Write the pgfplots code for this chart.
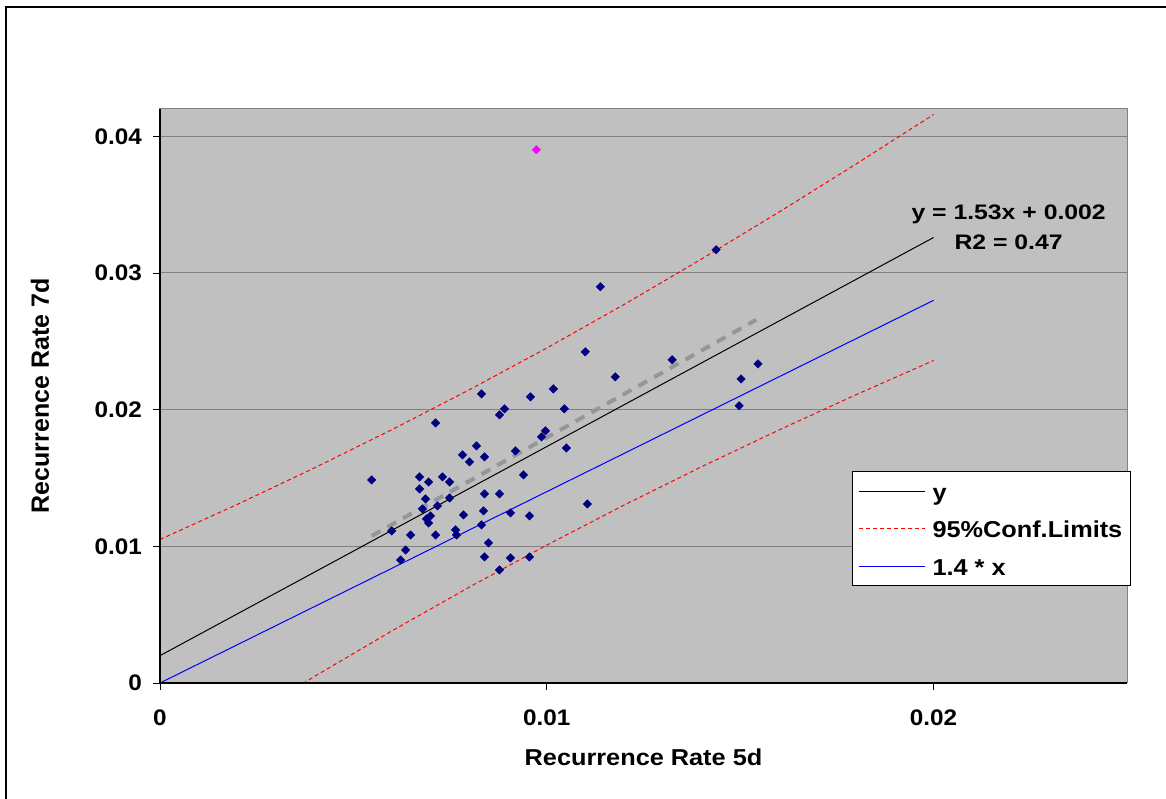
\documentclass[border=0pt]{standalone}
\usepackage{fontspec}
\setmainfont{Liberation Sans}
\newfontfamily\tickfont{Liberation Sans}[FakeStretch=1.08]
\newfontfamily\legfont{Liberation Sans}[FakeStretch=1.1]
\newfontfamily\eqfont{Liberation Sans}[FakeStretch=1.18]
\usepackage{pgfplots}
\pgfplotsset{compat=1.18}
\definecolor{plotbg}{RGB}{192,192,192}
\definecolor{gridc}{RGB}{128,128,128}
\definecolor{navy}{RGB}{0,0,128}
\definecolor{trend}{RGB}{150,150,150}
\definecolor{pinkpt}{RGB}{255,0,255}
\definecolor{redline}{RGB}{255,0,0}
\definecolor{blueline}{RGB}{0,0,255}
\newcommand\tlbl{\tickfont\fontsize{22.5}{27}\selectfont\bfseries}
\newcommand\lbl{\legfont\fontsize{23}{27}\selectfont\bfseries}
\newcommand\eqf{\eqfont\fontsize{21}{30}\selectfont\bfseries}
\newcommand\ylbl{\fontsize{25}{29}\selectfont\bfseries}
\begin{document}
\begin{tikzpicture}
\useasboundingbox (-160pt,-116pt) rectangle (1006pt,683pt);
\draw[black,line width=1.3pt] (-154pt,-130pt) -- (-154pt,676pt) -- (1020pt,676pt);
\begin{axis}[
  at={(0pt,0pt)}, anchor=south west, scale only axis,
  width=967pt, height=574pt,
  xmin=0, xmax=0.025, ymin=0, ymax=0.042,
  xtick={0,0.01,0.02}, xticklabels={0,0.01,0.02},
  ytick={0,0.01,0.02,0.03,0.04}, yticklabels={0,0.01,0.02,0.03,0.04},
  scaled ticks=false,
  tick align=outside, major tick length=7pt, tick pos=left,
  tick style={black, line width=0.8pt},
  ymajorgrids, grid style={gridc, line width=1pt},
  axis background/.style={fill=plotbg},
  axis line style={gridc, line width=1pt},
  ticklabel style={font=\tlbl, inner sep=0pt},
  xticklabel style={anchor=north}, yticklabel style={anchor=east},
  xticklabel shift=20pt, yticklabel shift=11pt,
  xlabel={Recurrence Rate 5d}, ylabel={Recurrence Rate 7d},
  xlabel style={font=\lbl, at={([yshift=-74pt]axis description cs:0.5,0)}, anchor=center},
  ylabel style={font=\ylbl, at={([xshift=-120pt]axis description cs:0,0.5)}, anchor=center},
  legend cell align=left,
  legend image code/.code={\draw[#1] (0pt,0pt) -- (66pt,0pt);},
  legend style={at={(axis description cs:0.7156,0.3693)}, anchor=north west,
    draw=black, line width=1pt, fill=white, font=\lbl,
    inner xsep=6pt, inner ysep=5.5pt, row sep=9.5pt,
    nodes={inner xsep=2pt, inner ysep=0pt, text height=23pt, text depth=5pt},
    /tikz/every odd column/.style={column sep=5pt}},
]
% fitted line
\addplot[draw=black, line width=1pt] coordinates {(0,0.002) (0.02,0.0326)};
\addlegendentry{y}
% 95% confidence limits (upper)
\addplot[draw=redline, line width=1pt, dash pattern=on 4pt off 3pt] coordinates {
 (0,0.01050) (0.002,0.01307) (0.004,0.01575) (0.006,0.01854) (0.008,0.02146)
 (0.010,0.02451) (0.012,0.02770) (0.014,0.03102) (0.016,0.03445) (0.018,0.03798) (0.020,0.04160)};
\addlegendentry{95\%Conf.Limits}
% 95% confidence limits (lower)
\addplot[draw=redline, line width=1pt, dash pattern=on 4pt off 3pt, forget plot] coordinates {
 (0,-0.00650) (0.002,-0.00295) (0.004,0.00049) (0.006,0.00382) (0.008,0.00702)
 (0.010,0.01009) (0.012,0.01302) (0.014,0.01582) (0.016,0.01851) (0.018,0.02110) (0.020,0.02360)};
% 1.4 * x
\addplot[draw=blueline, line width=1pt] coordinates {(0,0) (0.02,0.028)};
\addlegendentry{1.4 * x}
% trend line
\addplot[draw=trend, line width=4pt, dash pattern=on 10pt off 8pt, forget plot] coordinates {(0.005472,0.01076) (0.01541,0.02657)};
% data
\addplot[only marks, mark=square*, mark size=3pt, mark options={rotate=45, fill=navy, draw=navy}, forget plot] coordinates {
 (0.005472,0.01486) (0.005989,0.01113) (0.006221,0.009004) (0.006350,0.009736) (0.006479,0.01083)
 (0.006711,0.01508) (0.006711,0.01420) (0.006789,0.01274) (0.006866,0.01347) (0.006892,0.01201)
 (0.006944,0.01471) (0.006944,0.01171) (0.006995,0.01223) (0.007124,0.01903) (0.007124,0.01083)
 (0.007176,0.01296) (0.007305,0.01508) (0.007486,0.01471) (0.007486,0.01354) (0.007641,0.01120)
 (0.007666,0.01083) (0.007821,0.01669) (0.007847,0.01230) (0.008002,0.01618) (0.008183,0.01735)
 (0.008312,0.02116) (0.008312,0.01157) (0.008363,0.01259) (0.008389,0.01654) (0.008389,0.01384)
 (0.008389,0.009224) (0.008493,0.01025) (0.008776,0.01962) (0.008776,0.01384) (0.008776,0.008272)
 (0.008905,0.02006) (0.009060,0.01245) (0.009060,0.009151) (0.009189,0.01698) (0.009396,0.01523)
 (0.009551,0.01223) (0.009551,0.009224) (0.009577,0.02094) (0.009861,0.01801) (0.009964,0.01845)
 (0.010170,0.02152) (0.010454,0.02006) (0.010506,0.01720) (0.011048,0.01310) (0.010996,0.02423)
 (0.011384,0.02899) (0.011771,0.02240) (0.013242,0.02365) (0.014378,0.03170) (0.014972,0.02028)
 (0.015023,0.02225) (0.015462,0.02335)};
\addplot[only marks, mark=square*, mark size=3pt, mark options={rotate=45, fill=pinkpt, draw=pinkpt}, forget plot] coordinates {(0.009731,0.03902)};
\node[font=\eqf, align=center, inner sep=0pt] at (axis cs:0.02194,0.03338) {y = 1.53x + 0.002\\R2 = 0.47};
\end{axis}
\draw[black, line width=1.3pt] (0pt,574pt) -- (0pt,0pt) -- (967pt,0pt);
\end{tikzpicture}
\end{document}
